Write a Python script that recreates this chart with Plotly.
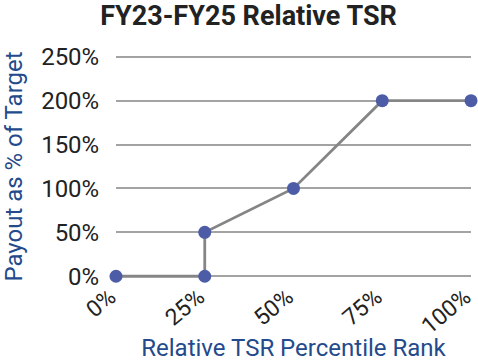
import plotly.graph_objects as go

percentile_rank = [0, 25, 25, 50, 75, 100]
payout_pct = [0, 0, 50, 100, 200, 200]
x_ticks = [0, 25, 50, 75, 100]
x_tick_labels = ["0%", "25%", "50%", "75%", "100%"]
y_ticks = [0, 50, 100, 150, 200, 250]
y_tick_labels = ["0%", "50%", "100%", "150%", "200%", "250%"]

fig = go.Figure()
fig.add_trace(go.Scatter(
    x=percentile_rank, y=payout_pct, mode="lines+markers",
    line=dict(color="#858585", width=2.8),
    marker=dict(color="#4c5ca6", size=13),
    cliponaxis=False, showlegend=False,
))

axis_title_color = "#234a8c"
fig.update_layout(
    width=478, height=362,
    margin=dict(l=116, r=7, t=55, b=84),
    paper_bgcolor="white", plot_bgcolor="white",
    font=dict(family="Roboto", size=24, color="#222222"),
    title=dict(text="<b>FY23-FY25 Relative TSR</b>", x=0.52, xanchor="center",
               xref="container", yref="container",
               y=0.956, yanchor="middle", font=dict(size=27, color="#222222")),
    xaxis=dict(range=[0, 100], tickvals=x_ticks, ticktext=x_tick_labels,
               tickangle=-40, showgrid=False, zeroline=False, showline=False,
               automargin=False, tickfont=dict(size=23), ticklabeloverflow="allow",
               ticklabelshift=-6,
               title=dict(text="Relative TSR Percentile Rank", standoff=6,
                          font=dict(color=axis_title_color, size=24))),
    yaxis=dict(range=[-2, 252], tickvals=y_ticks, ticktext=y_tick_labels,
               showgrid=True, gridcolor="#a3a3a3", gridwidth=2, zeroline=False,
               showline=False, ticklen=11, tickcolor="rgba(0,0,0,0)", ticks="outside",
               automargin=False, ticklabeloverflow="allow",
               title=dict(text="Payout as % of Target", standoff=16,
                          font=dict(color=axis_title_color, size=24))),
)
fig.write_html("out.html", config={"displayModeBar": False},
               post_script="document.body.style.margin='0';")
